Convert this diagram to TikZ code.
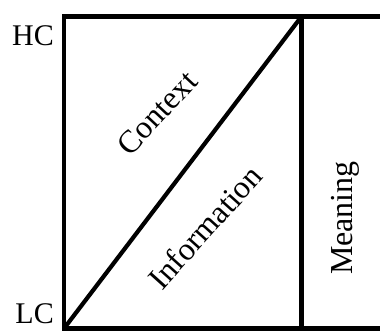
\documentclass[tikz,border=0pt]{standalone}
\usepackage{fontspec}
\setmainfont{Liberation Serif}
\begin{document}
\begin{tikzpicture}[x=1pt,y=-1pt,
  edge/.style={line width=4.2pt,line join=miter},
  lbl/.style={font=\fontsize{32}{38}\selectfont,inner sep=0pt},
  side/.style={font=\fontsize{30}{36}\selectfont,inner sep=0pt,anchor=base east}]
\useasboundingbox (0,0) rectangle (380,330);
\coordinate (tl) at (64,16.5);
\coordinate (bl) at (64,328.5);
\coordinate (tr) at (382,16.5);
\coordinate (br) at (382,328.5);
\coordinate (tm) at (301.5,16.5);
\coordinate (bm) at (301.5,328.5);
\draw[edge] (tr) -- (tl) -- (bl) -- (br);
\draw[edge] (tm) -- (bm);
\draw[edge] (bl) -- (tm);
\node[side] (hc) at (54,45) {HC};
\node[side] (lc) at (54,323) {LC};
\node[lbl,rotate=47] (ctx) at (157,113) {Context};
\node[lbl,rotate=48] (inf) at (205,227) {Information};
\node[lbl,rotate=90] (mea) at (345,218) {Meaning};
\end{tikzpicture}
\end{document}
